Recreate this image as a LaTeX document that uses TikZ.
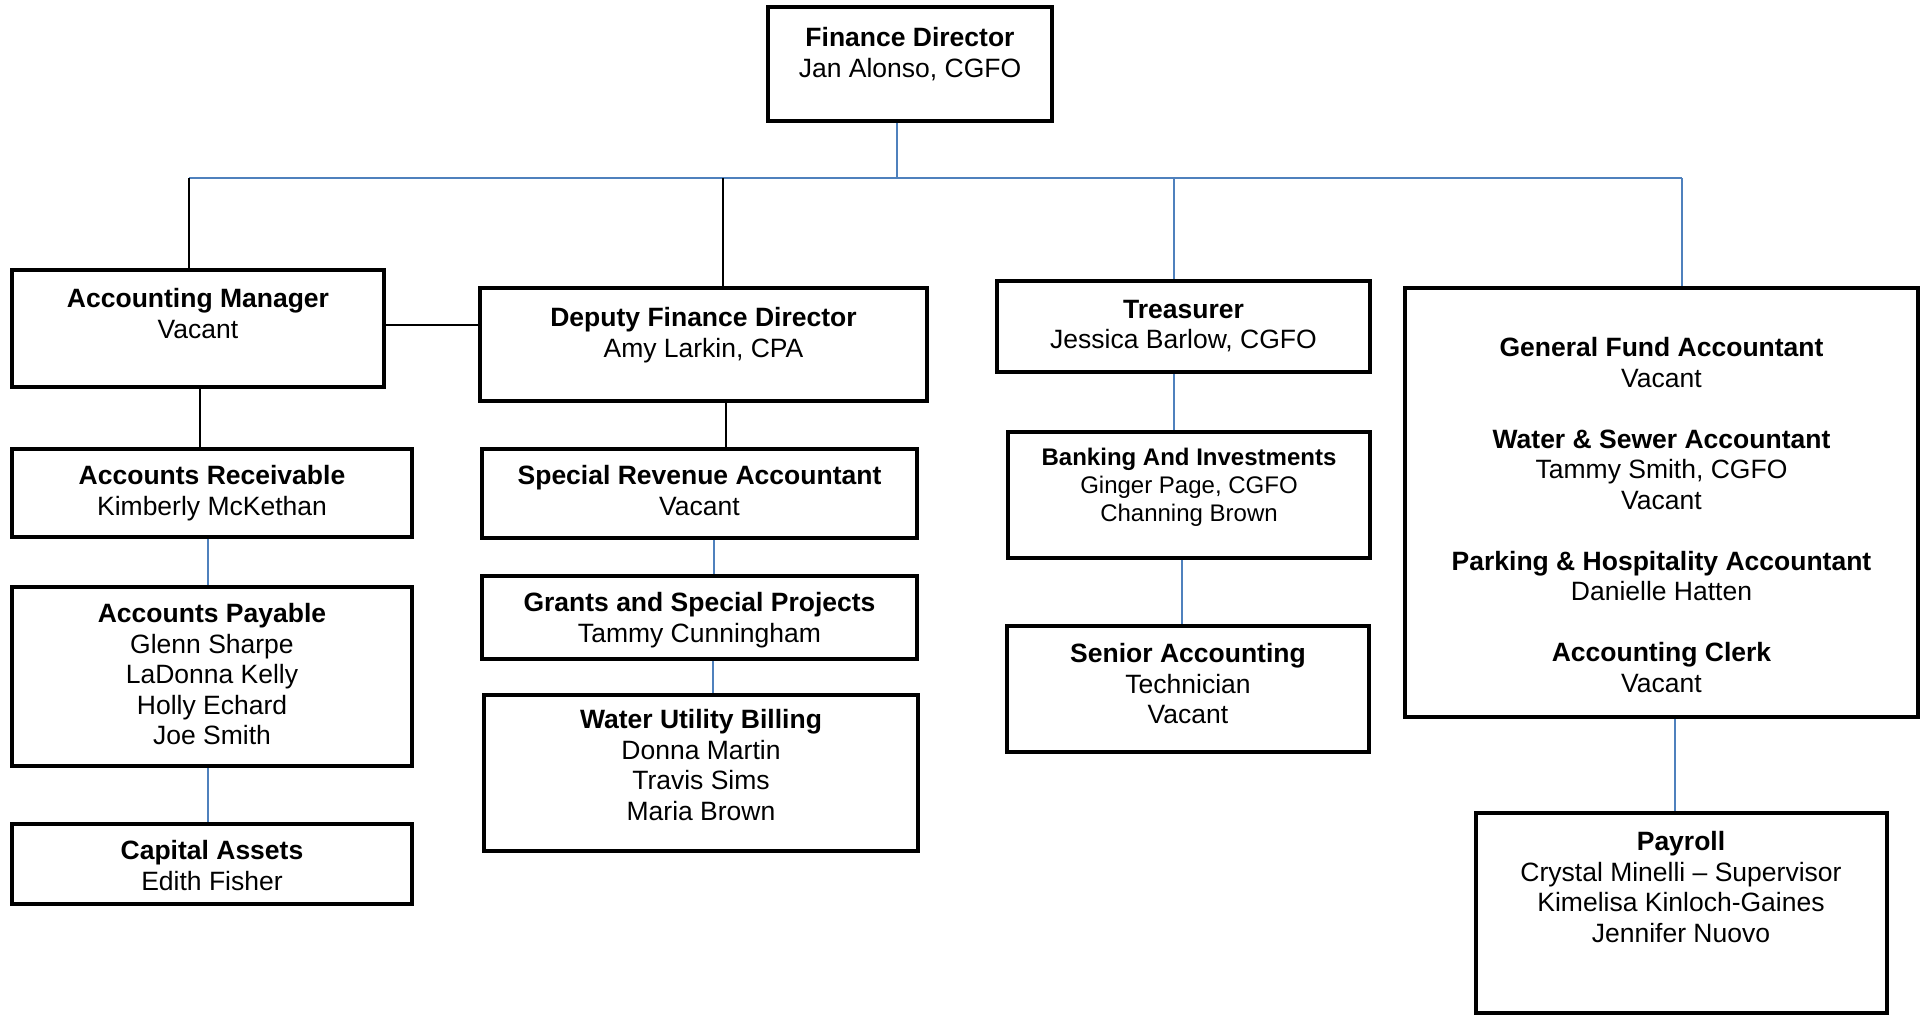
\documentclass[tikz,border=0pt]{standalone}
\usepackage{fontspec}
\setmainfont{Liberation Sans}
\definecolor{lnblue}{RGB}{79,129,189}
\begin{document}
\begin{tikzpicture}[x=1pt,y=-1pt,
  box/.style={draw=black,line width=4pt,fill=white,rectangle,inner sep=0pt},
  txt/.style={anchor=north,align=center,inner sep=0pt,font=\fontsize{26.5}{30.5}\selectfont},
  txts/.style={anchor=north,align=center,inner sep=0pt,font=\fontsize{24}{28}\selectfont},
  bl/.style={draw=lnblue,line width=1.5pt},
  bk/.style={draw=black,line width=1.5pt}]
\useasboundingbox (0,0) rectangle (1925,1015);
\fill[white] (0,0) rectangle (1925,1015);
% boxes
\node[box,minimum width=284pt,minimum height=114pt] (fd) at (910,64) {};
\node[box,minimum width=372pt,minimum height=117pt] (am) at (198,328.5) {};
\node[box,minimum width=447pt,minimum height=113pt] (dfd) at (703.5,344.5) {};
\node[box,minimum width=373pt,minimum height=91pt] (tr) at (1183.5,326.5) {};
\node[box,minimum width=513pt,minimum height=429pt] (big) at (1661.5,502.5) {};
\node[box,minimum width=400pt,minimum height=88pt] (ar) at (212,493) {};
\node[box,minimum width=400pt,minimum height=179pt] (ap) at (212,676.5) {};
\node[box,minimum width=400pt,minimum height=80pt] (ca) at (212,864) {};
\node[box,minimum width=435pt,minimum height=89pt] (sra) at (699.5,493.5) {};
\node[box,minimum width=435pt,minimum height=83pt] (gr) at (699.5,617.5) {};
\node[box,minimum width=434pt,minimum height=156pt] (wub) at (701,773) {};
\node[box,minimum width=362pt,minimum height=126pt] (bank) at (1189,495) {};
\node[box,minimum width=362pt,minimum height=126pt] (sen) at (1188,689) {};
\node[box,minimum width=411pt,minimum height=200pt] (pay) at (1681,913) {};
% texts
\node[txt] (tfd) at (910,27.5) {\textbf{Finance Director}\\Jan Alonso, CGFO};
\node[txt] (tam) at (198,288.5) {\textbf{Accounting Manager}\\Vacant};
\node[txt] (tdfd) at (703.5,307.5) {\textbf{Deputy Finance Director}\\Amy Larkin, CPA};
\node[txt] (ttr) at (1183.5,300) {\textbf{Treasurer}\\Jessica Barlow, CGFO};
\node[txt] (tbig) at (1661.5,337.5) {\textbf{General Fund Accountant}\\Vacant\\[30.5pt]
  \textbf{Water \& Sewer Accountant}\\Tammy Smith, CGFO\\Vacant\\[30.5pt]
  \textbf{Parking \& Hospitality Accountant}\\Danielle Hatten\\[30.5pt]
  \textbf{Accounting Clerk}\\Vacant};
\node[txt] (tar) at (212,465.5) {\textbf{Accounts Receivable}\\Kimberly McKethan};
\node[txt] (tap) at (212,603.5) {\textbf{Accounts Payable}\\Glenn Sharpe\\LaDonna Kelly\\Holly Echard\\Joe Smith};
\node[txt] (tca) at (212,840.5) {\textbf{Capital Assets}\\Edith Fisher};
\node[txt] (tsra) at (699.5,465.5) {\textbf{Special Revenue Accountant}\\Vacant};
\node[txt] (tgr) at (699.5,592.5) {\textbf{Grants and Special Projects}\\Tammy Cunningham};
\node[txt] (twub) at (701,709.5) {\textbf{Water Utility Billing}\\Donna Martin\\Travis Sims\\Maria Brown};
\node[txts] (tbank) at (1189,448) {\textbf{Banking And Investments}\\Ginger Page, CGFO\\Channing Brown};
\node[txt] (tsen) at (1188,643.5) {\textbf{Senior Accounting}\\Technician\\Vacant};
\node[txt] (tpay) at (1681,831.5) {\textbf{Payroll}\\Crystal Minelli -- Supervisor\\Kimelisa Kinloch-Gaines\\Jennifer Nuovo};
% junction coordinates
\coordinate (jfd) at (897,178);
\coordinate (busL) at (189,178);
\coordinate (busR) at (1682,178);
\coordinate (jdfd) at (723,178);
\coordinate (jtr) at (1174,178);
\coordinate (xam) at (200,0);
\coordinate (xar) at (208,0);
\coordinate (xdfd) at (726,0);
\coordinate (xsra) at (714,0);
\coordinate (xgr) at (713,0);
\coordinate (xtr) at (1174,0);
\coordinate (xbank) at (1182,0);
\coordinate (xbig) at (1675,0);
\coordinate (yamd) at (0,325);
% connectors
\draw[bl] (fd.south -| jfd) -- (jfd);
\draw[bl] (busL) -- (busR);
\draw[bk] (busL) -- (am.north -| busL);
\draw[bk] (jdfd) -- (dfd.north -| jdfd);
\draw[bl] (jtr) -- (tr.north -| jtr);
\draw[bl] (busR) -- (big.north -| busR);
\draw[bk] (am.east |- yamd) -- (dfd.west |- yamd);
\draw[bk] (am.south -| xam) -- (ar.north -| xam);
\draw[bl] (ar.south -| xar) -- (ap.north -| xar);
\draw[bl] (ap.south -| xar) -- (ca.north -| xar);
\draw[bk] (dfd.south -| xdfd) -- (sra.north -| xdfd);
\draw[bl] (sra.south -| xsra) -- (gr.north -| xsra);
\draw[bl] (gr.south -| xgr) -- (wub.north -| xgr);
\draw[bl] (tr.south -| xtr) -- (bank.north -| xtr);
\draw[bl] (bank.south -| xbank) -- (sen.north -| xbank);
\draw[bl] (big.south -| xbig) -- (pay.north -| xbig);
\end{tikzpicture}
\end{document}
